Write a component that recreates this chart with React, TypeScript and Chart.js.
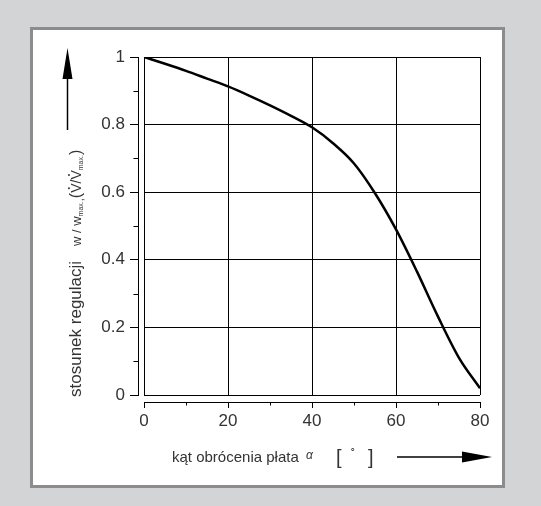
import React, { useEffect, useRef } from "react";
import { Chart, registerables } from "chart.js";

Chart.register(...registerables);

// ---- data ----
const angles = [0, 5, 10, 15, 20, 25, 30, 35, 40, 45, 50, 55, 60, 65, 70, 75, 80];
const ratio = [1, 0.98, 0.959, 0.936, 0.913, 0.886, 0.857, 0.826, 0.792, 0.745, 0.685, 0.597, 0.49, 0.365, 0.232, 0.11, 0.02];
const xTicks = [0, 20, 40, 60, 80];
const xMinor = [10, 30, 50, 70];
const yTicks = [0, 0.2, 0.4, 0.6, 0.8, 1];
const yMinor = [0.1, 0.3, 0.5, 0.7, 0.9];
const yTitleMain = "stosunek regulacji";
const xTitleMain = "kąt obrócenia płata";

const FONT = '"Liberation Sans", Arial, sans-serif';
const TEXT = "#333";

const decorPlugin = {
  id: "decor",
  beforeDraw(chart: any) {
    const ctx = chart.ctx;
    ctx.save();
    ctx.fillStyle = "#d3d4d6";
    ctx.fillRect(0, 0, chart.width, chart.height);
    ctx.fillStyle = "#8c8c8c";
    ctx.fillRect(30, 27, 475, 461);
    ctx.fillStyle = "#ffffff";
    ctx.fillRect(33, 30, 469, 455);
    ctx.restore();
  },
  afterDraw(chart: any) {
    const ctx = chart.ctx;
    const xs = chart.scales.xAxis;
    const ys = chart.scales.yAxis;
    ctx.save();
    ctx.strokeStyle = "#000";
    ctx.lineWidth = 1;
    // minor ticks
    xMinor.forEach((v) => {
      const p = Math.round(xs.getPixelForValue(v)) + 0.5;
      ctx.beginPath();
      ctx.moveTo(p, xs.top);
      ctx.lineTo(p, xs.top + 3.5);
      ctx.stroke();
    });
    yMinor.forEach((v) => {
      const p = Math.round(ys.getPixelForValue(v)) + 0.5;
      ctx.beginPath();
      ctx.moveTo(ys.right, p);
      ctx.lineTo(ys.right - 4.5, p);
      ctx.stroke();
    });

    // x title
    ctx.fillStyle = TEXT;
    ctx.textBaseline = "alphabetic";
    ctx.textAlign = "left";
    ctx.font = `15px ${FONT}`;
    ctx.fillText(xTitleMain, 172, 462);
    ctx.font = `italic 12px ${FONT}`;
    ctx.fillText("α", 306, 459);
    ctx.font = `20px ${FONT}`;
    ctx.fillText("[", 336, 464);
    ctx.fillText("]", 368, 464);
    ctx.font = `bold 12px ${FONT}`;
    ctx.fillText("˚", 351, 458);
    // x arrow
    ctx.lineWidth = 1.5;
    ctx.beginPath();
    ctx.moveTo(397, 457);
    ctx.lineTo(464, 457);
    ctx.stroke();
    ctx.fillStyle = "#000";
    ctx.beginPath();
    ctx.moveTo(462, 451.5);
    ctx.lineTo(492, 457);
    ctx.lineTo(462, 462.5);
    ctx.closePath();
    ctx.fill();
    // y arrow
    ctx.beginPath();
    ctx.moveTo(67.5, 130);
    ctx.lineTo(67.5, 77);
    ctx.stroke();
    ctx.beginPath();
    ctx.moveTo(62.5, 79);
    ctx.lineTo(67.5, 48);
    ctx.lineTo(72.5, 79);
    ctx.closePath();
    ctx.fill();

    // y title (rotated)
    ctx.translate(81, 397);
    ctx.rotate(-Math.PI / 2);
    ctx.fillStyle = TEXT;
    ctx.font = `17px ${FONT}`;
    ctx.fillText(yTitleMain, 0, 0);
    let x = 151;
    const put = (t: string, size: number, dy: number) => {
      ctx.font = `${size}px ${FONT}`;
      ctx.fillText(t, x, dy);
      x += ctx.measureText(t).width;
    };
    const putVdot = (size: number) => {
      ctx.font = `${size}px ${FONT}`;
      const w = ctx.measureText("V").width;
      ctx.fillText("V", x, 0);
      ctx.beginPath();
      ctx.arc(x + w / 2, -size * 0.86, 1, 0, Math.PI * 2);
      ctx.fill();
      x += w;
    };
    put("w / w", 13, 0);
    put("max.", 7, 2);
    put(",", 11, 2);
    put("(", 16, 0);
    putVdot(14);
    put("/", 14, 0);
    putVdot(14);
    put("max.", 7, 2);
    put(")", 16, 0);
    ctx.restore();
  },
};

export default function App() {
  const ref = useRef<HTMLCanvasElement>(null);
  useEffect(() => {
    if (!ref.current) return;
    const chart = new Chart(ref.current, {
      type: "line",
      data: {
        datasets: [
          {
            data: angles.map((a, i) => ({ x: a, y: ratio[i] })),
            borderColor: "#000",
            borderWidth: 2.5,
            pointRadius: 0,
            cubicInterpolationMode: "monotone",
            fill: false,
          },
        ],
      },
      options: {
        animation: false,
        responsive: false,
        maintainAspectRatio: false,
        layout: { padding: { left: 0, top: 57, right: 61, bottom: 0 } },
        plugins: { legend: { display: false }, tooltip: { enabled: false } },
        scales: {
          x: {
            type: "linear",
            position: "bottom",
            weight: 0,
            min: 0,
            max: 80,
            afterBuildTicks: (s: any) => {
              s.ticks = xTicks.map((v) => ({ value: v }));
            },
            grid: { color: "#000", lineWidth: 1, drawTicks: true, tickLength: 7, tickColor: "rgba(0,0,0,0)" },
            border: { display: false },
            ticks: { display: false },
            afterFit: (s: any) => {
              s.height = 7;
            },
          },
          xAxis: {
            type: "linear",
            position: "bottom",
            weight: 1,
            min: 0,
            max: 80,
            afterBuildTicks: (s: any) => {
              s.ticks = xTicks.map((v) => ({ value: v }));
            },
            grid: { drawOnChartArea: false, drawTicks: true, tickLength: 6, tickColor: "#000", color: "#000" },
            border: { display: true, color: "#000", width: 1 },
            ticks: { color: TEXT, font: { family: FONT, size: 17 }, padding: 3, maxRotation: 0 },
            afterFit: (s: any) => {
              s.height = 104;
            },
          },
          y: {
            type: "linear",
            position: "left",
            weight: 0,
            min: 0,
            max: 1,
            afterBuildTicks: (s: any) => {
              s.ticks = yTicks.map((v) => ({ value: v }));
            },
            grid: { color: "#000", lineWidth: 1, drawTicks: true, tickLength: 6, tickColor: "rgba(0,0,0,0)" },
            border: { display: false },
            ticks: { display: false },
            afterFit: (s: any) => {
              s.width = 6;
            },
          },
          yAxis: {
            type: "linear",
            position: "left",
            weight: 1,
            min: 0,
            max: 1,
            afterBuildTicks: (s: any) => {
              s.ticks = yTicks.map((v) => ({ value: v }));
            },
            grid: { drawOnChartArea: false, drawTicks: true, tickLength: 8, tickColor: "#000", color: "#000" },
            border: { display: true, color: "#000", width: 1 },
            ticks: {
              color: TEXT,
              font: { family: FONT, size: 17 },
              padding: 5,
              callback: (v: any) => String(Math.round(Number(v) * 10) / 10),
            },
            afterFit: (s: any) => {
              s.width = 138;
            },
          },
        },
      },
      plugins: [decorPlugin],
    } as any);
    return () => chart.destroy();
  }, []);
  return (
    <div style={{ position: "absolute", left: 0, top: 0, width: 541, height: 506 }}>
      <canvas ref={ref} width={541} height={506} style={{ display: "block", width: 541, height: 506 }} />
    </div>
  );
}
